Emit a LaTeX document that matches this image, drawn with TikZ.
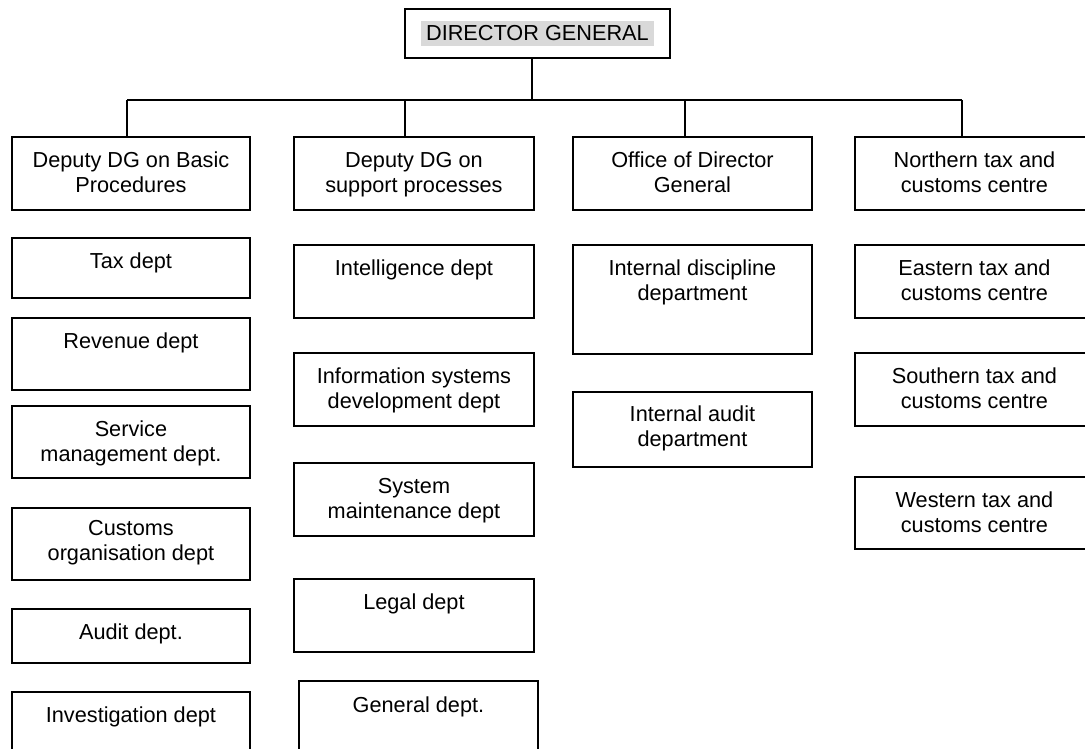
\documentclass[tikz,border=0pt]{standalone}
\usepackage{fontspec}
\setmainfont{Liberation Sans}
\definecolor{hlgray}{HTML}{D9D9D9}

% one organisational unit: [first-baseline offset]{name}{x}{y}{width}{height}{text}
\newcommand{\orgunit}[7][31]{%
  \node[unit, anchor=north west] (#2) at (#3,#4)
    {\parbox[t][#6pt][t]{#5pt}{\centering\rule{0pt}{#1pt}#7}};}

\begin{document}
\begin{tikzpicture}[x=1pt, y=-1pt,
    unit/.style={draw, line width=1.9pt, inner sep=0pt,
      font=\fontsize{21.7pt}{24.5pt}\selectfont},
    link/.style={line width=1.9pt}]
\useasboundingbox (0,0) rectangle (1085,749);
\clip (0,0) rectangle (1085,749);

% top of the chart
\node[unit, minimum width=265pt, minimum height=49pt, anchor=north west] (dg) at (404,8)
  {\setlength{\fboxsep}{5pt}\colorbox{hlgray}{DIRECTOR GENERAL}};

% column heads
\orgunit{d1}{11}{136}{238}{73}{Deputy DG on Basic\\Procedures}
\orgunit{d2}{293}{136}{240}{73}{Deputy DG on\\support processes}
\orgunit{d3}{572}{136}{239}{73}{Office of Director\\General}
\orgunit{d4}{854}{136}{239}{73}{Northern tax and\\customs centre}

% basic procedures
\orgunit{tax}{11}{237}{238}{60}{Tax dept}
\orgunit{rev}{11}{317}{238}{72}{Revenue dept}
\orgunit{svc}{11}{405}{238}{72}{Service\\management dept.}
\orgunit[28]{cust}{11}{507}{238}{72}{Customs\\organisation dept}
\orgunit{aud}{11}{608}{238}{54}{Audit dept.}
\orgunit{inv}{11}{691}{238}{80}{Investigation dept}

% support processes
\orgunit{intel}{293}{244}{240}{73}{Intelligence dept}
\orgunit{info}{293}{352}{240}{73}{Information systems\\development dept}
\orgunit{sys}{293}{462}{240}{73}{System\\maintenance dept}
\orgunit{legal}{293}{578}{240}{73}{Legal dept}
\orgunit[32]{gen}{298}{680}{239}{80}{General dept.}

% office of the director general
\orgunit{disc}{572}{244}{239}{109}{Internal discipline\\department}
\orgunit[30]{iaud}{572}{391}{239}{75}{Internal audit\\department}

% regional centres
\orgunit{east}{854}{244}{239}{73}{Eastern tax and\\customs centre}
\orgunit{south}{854}{352}{239}{73}{Southern tax and\\customs centre}
\orgunit{west}{854}{476}{239}{72}{Western tax and\\customs centre}

% connector bus
\coordinate (hub) at (532,100);
\coordinate (c1) at (127,100);
\coordinate (c2) at (405,100);
\coordinate (c3) at (685,100);
\coordinate (c4) at (962,100);
\draw[link] (dg.south -| hub) -- (hub);
\draw[link] (c1) -- (c4);
\draw[link] (c1) -- (c1 |- d1.north);
\draw[link] (c2) -- (c2 |- d2.north);
\draw[link] (c3) -- (c3 |- d3.north);
\draw[link] (c4) -- (c4 |- d4.north);
\end{tikzpicture}
\end{document}
